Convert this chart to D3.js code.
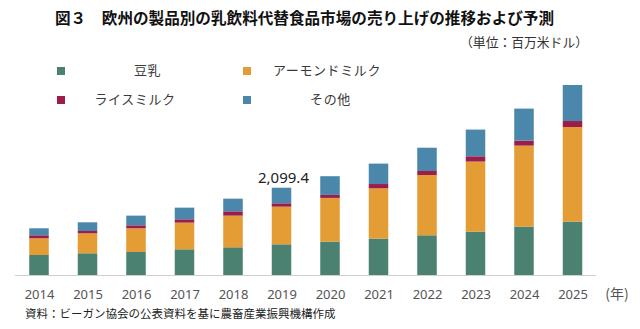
<!DOCTYPE html>
<html>
<head>
<meta charset="utf-8">
<script src="https://cdn.jsdelivr.net/npm/d3@7"></script>
<style>
  body { margin: 0; background: #fff; }
  svg { display: block; }
</style>
</head>
<body>
<div id="chart"></div>
<script>
// data (million USD)
var years = ["2014", "2015", "2016", "2017", "2018", "2019", "2020", "2021", "2022", "2023", "2024", "2025"];
var soyMilk    = [481, 522, 553, 618, 666, 738, 803, 875, 955, 1044, 1164, 1284];
var almondMilk = [402, 481, 570, 642, 762, 906, 1051, 1210, 1450, 1684, 1948, 2275];
var riceMilk   = [72, 55, 72, 79, 103, 80, 72, 103, 96, 127, 120, 144];
var others     = [168, 209, 233, 281, 305, 375.4, 450, 491, 560, 642, 770, 866];
var seriesNames = ["豆乳", "アーモンドミルク", "ライスミルク", "その他"];
var highlightYear = "2019";

var width = 640;
var height = 329;
var baseline = 275;
var barWidth = 19.5;
var jp = "'Noto Sans CJK JP', 'Noto Sans', sans-serif";
var latin = "'Noto Sans', 'DejaVu Sans', sans-serif";
var colors = ["#4b8171", "#e49c35", "#9c1d4c", "#4a87aa"];

var rows = years.map(function (y, i) {
    return { year: y, soy: soyMilk[i], almond: almondMilk[i], rice: riceMilk[i], other: others[i] };
});
var keys = ["soy", "almond", "rice", "other"];

var svg = d3.select("#chart").append("svg")
    .attr("width", width)
    .attr("height", height);

var x = d3.scalePoint().domain(years).range([39, 572.5]);
var y = d3.scaleLinear().domain([0, 5000]).range([baseline, baseline - 5000 / 24.05]);

// title
svg.append("text")
    .attr("x", 55).attr("y", 24)
    .style("font-family", jp).style("font-size", "15.6px").style("font-weight", "700")
    .style("fill", "#111")
    .text("図３　欧州の製品別の乳飲料代替食品市場の売り上げの推移および予測");

svg.append("text")
    .attr("x", 588).attr("y", 47)
    .attr("text-anchor", "end")
    .style("font-family", jp).style("font-size", "12.8px")
    .style("fill", "#333")
    .text("（単位：百万米ドル）");

// legend
var legendPos = [
    { sx: 61, tx: 147.5, y: 70 },
    { sx: 247, tx: 327, y: 70 },
    { sx: 61, tx: 135, y: 99 },
    { sx: 247, tx: 330.5, y: 99 }
];
var legend = svg.append("g").attr("class", "legend");
seriesNames.forEach(function (name, i) {
    var p = legendPos[i];
    legend.append("rect")
        .attr("x", p.sx - 4).attr("y", p.y - 3)
        .attr("width", 8).attr("height", 8)
        .attr("fill", colors[i]);
    legend.append("text")
        .attr("x", p.tx).attr("y", p.y + 4.5)
        .attr("text-anchor", "middle")
        .style("font-family", jp).style("font-size", "13px")
        .style("letter-spacing", "0.6px")
        .style("fill", "#3a3a3a")
        .text(name);
});

// baseline
svg.append("line")
    .attr("x1", 15).attr("x2", 596)
    .attr("y1", baseline + 0.5).attr("y2", baseline + 0.5)
    .attr("stroke", "#d0d0d0").attr("stroke-width", 1.2);

// stacked bars
var stack = d3.stack().keys(keys);
var layers = svg.append("g").selectAll("g")
    .data(stack(rows))
    .enter().append("g")
    .attr("fill", function (d, i) { return colors[i]; });

layers.selectAll("rect")
    .data(function (d) { return d; })
    .enter().append("rect")
    .attr("x", function (d) { return x(d.data.year) - barWidth / 2; })
    .attr("y", function (d) { return y(d[1]); })
    .attr("width", barWidth)
    .attr("height", function (d) { return y(d[0]) - y(d[1]); });

// total label on 2019
var hi = rows.filter(function (r) { return r.year === highlightYear; })[0];
var hiTotal = hi.soy + hi.almond + hi.rice + hi.other;
svg.append("text")
    .attr("x", x(highlightYear) + 2).attr("y", y(hiTotal) - 5)
    .attr("text-anchor", "middle")
    .style("font-family", latin).style("font-size", "15px")
    .style("fill", "#222")
    .text(d3.format(",.1f")(hiTotal));

// x axis
var axis = svg.append("g")
    .attr("transform", "translate(0," + baseline + ")")
    .call(d3.axisBottom(x).tickSize(0).tickPadding(14.5));
axis.select(".domain").remove();
axis.selectAll("text")
    .style("font-family", latin).style("font-size", "13px")
    .style("fill", "#555");

svg.append("text")
    .attr("x", 617).attr("y", 299)
    .attr("text-anchor", "middle")
    .style("font-family", jp).style("font-size", "14px")
    .style("fill", "#555")
    .text("(年)");

svg.append("text")
    .attr("x", 25).attr("y", 317.5)
    .style("font-family", jp).style("font-size", "11.5px")
    .style("fill", "#222")
    .text("資料：ビーガン協会の公表資料を基に農畜産業振興機構作成");
</script>
</body>
</html>
